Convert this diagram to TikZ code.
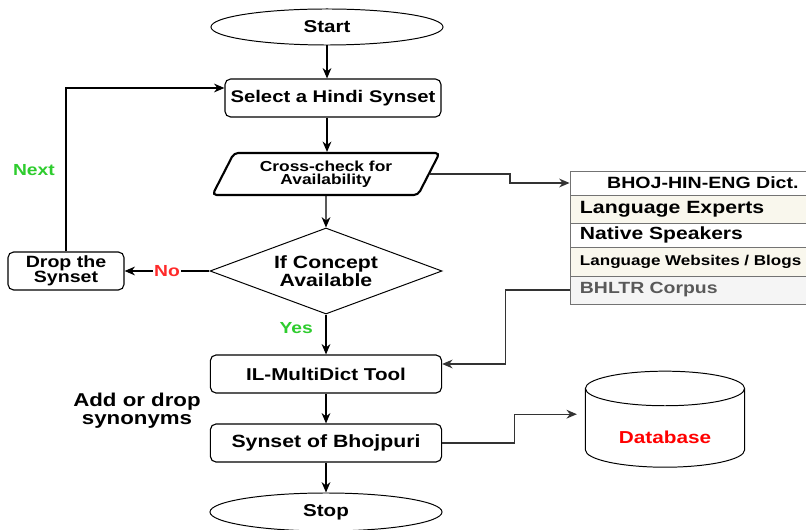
\documentclass[tikz,border=0pt]{standalone}
\usepackage{fontspec}
\setmainfont{Liberation Sans}[FakeStretch=1.2]
\usetikzlibrary{shapes.geometric, arrows.meta, positioning}

\definecolor{creamFill}{HTML}{F9F7ED}
\definecolor{greyFill}{HTML}{F5F5F5}
\definecolor{nextGreen}{HTML}{2ECC2E}
\definecolor{noRed}{HTML}{FF2A2A}

\tikzset{
	procBox/.style={rectangle, rounded corners=4pt, draw=black, line width=0.8pt, minimum width=5.78cm, minimum height=0.95cm, inner ysep=1pt, align=center, font=\fontsize{12}{11}\selectfont\bfseries},
	termNode/.style={ellipse, draw=black, line width=0.7pt, minimum width=5.8cm, minimum height=0.9cm, font=\fontsize{12.2}{13}\selectfont\bfseries},
	ioBox/.style={trapezium, trapezium left angle=60, trapezium right angle=120, trapezium stretches=true, rounded corners=3pt, draw=black, line width=1.5pt, minimum width=5.68cm, minimum height=1.05cm, inner sep=0pt, align=center, font=\fontsize{10.3}{9.5}\selectfont\bfseries},
	decisionBox/.style={diamond, aspect=2.7, draw=black, line width=0.7pt, minimum width=5.8cm, minimum height=2.15cm, inner sep=0pt, align=center, font=\fontsize{12.6}{11.5}\selectfont\bfseries},
	srcRow/.style={rectangle, draw=black!55, line width=0.6pt, minimum width=6.05cm, text width=5.55cm, inner xsep=0.25cm, inner ysep=0pt, align=left, font=\bfseries},
	dbNode/.style={cylinder, shape border rotate=90, aspect=0.34, draw=black, line width=0.7pt, minimum width=3.98cm, minimum height=2.4cm, font=\fontsize{12.3}{13}\selectfont\bfseries, text=red},
	flowArrow/.style={-{Stealth[length=2.6mm, width=2.2mm]}, line width=0.8pt},
	edgeLabel/.style={font=\fontsize{11.4}{12}\selectfont\bfseries}
}

\begin{document}
\begin{tikzpicture}[x=0.025cm, y=-0.025cm]
	\useasboundingbox (0,0) rectangle (806,530);

	% flow chart nodes
	\node[termNode](startNode) at (327,27){Start};
	\node[procBox, minimum width=5.4cm](selectBox) at (333,98){Select a Hindi Synset};
	\node[ioBox](checkBox) at (326,174){Cross-check for\\Availability};
	\node[decisionBox](conceptBox) at (326,271){If Concept\\Available};
	\node[procBox, minimum width=2.9cm, font=\fontsize{11.6}{10.6}\selectfont\bfseries](dropBox) at (66,271){Drop the\\Synset};
	\node[procBox, font=\fontsize{12.2}{11}\selectfont\bfseries](toolBox) at (326,374){IL-MultiDict Tool};
	\node[procBox, font=\fontsize{12.6}{11}\selectfont\bfseries](synsetBox) at (326,443){Synset of Bhojpuri};
	\node[termNode, minimum height=0.95cm](stopNode) at (326,512){Stop};
	\node[align=center, font=\fontsize{13.2}{12.7}\selectfont\bfseries](addDrop) at (137,411){Add or drop\\synonyms};

	% source table rows
	\node[srcRow, minimum height=0.6cm, fill=white, font=\fontsize{11.6}{12}\selectfont\bfseries](dictRow) at (691,183){\hspace*{0.68cm}BHOJ-HIN-ENG Dict.};
	\node[srcRow, minimum height=0.7cm, fill=creamFill, font=\fontsize{12.6}{13}\selectfont\bfseries](expertRow) at (691,209){Language Experts};
	\node[srcRow, minimum height=0.6cm, fill=white, font=\fontsize{12.5}{13}\selectfont\bfseries](nativeRow) at (691,235){Native Speakers};
	\node[srcRow, minimum height=0.725cm, fill=creamFill, font=\fontsize{10.1}{11}\selectfont\bfseries](webRow) at (691,261.5){Language Websites / Blogs};
	\node[srcRow, minimum height=0.7cm, fill=greyFill, text=black!65, font=\fontsize{11.5}{12}\selectfont\bfseries](corpusRow) at (691,290){BHLTR Corpus};

	% database
	\node[dbNode](dbBox) at (665,431){\raisebox{-0.15cm}[\height][\depth]{Database}};
	\coordinate (dbIn) at ([yshift=0.42cm]dbBox.west);

	% draw main edges
	\draw[flowArrow] (startNode.south) -- (startNode.south |- selectBox.north);
	\coordinate (checkOut) at (startNode.south |- selectBox.south);
	\draw[flowArrow] (checkOut) -- (checkOut |- checkBox.north);
	\draw[flowArrow] (checkBox.south) -- (conceptBox.north);
	\draw[flowArrow] (conceptBox.south) -- node[edgeLabel, text=nextGreen, pos=0.35, left=0.2cm]{Yes}(toolBox.north);
	\draw[flowArrow] (toolBox.south) -- (synsetBox.north);
	\draw[flowArrow] (synsetBox.south) -- (stopNode.north);

	% draw drop loop
	\draw[flowArrow] (conceptBox.west) -- node[edgeLabel, text=noRed, midway, fill=white, inner xsep=1pt]{No}(dropBox.east);
	\coordinate (selectIn) at ([yshift=0.25cm]selectBox.west);
	\draw[flowArrow] (dropBox.north) -- node[edgeLabel, text=nextGreen, midway, left=0.15cm]{Next}(dropBox.north |- selectIn) -- (selectIn);

	% draw table edges
	\draw[flowArrow, black!80] (checkBox.east) -- ++(80,0) |- (dictRow.west);
	\coordinate (toolIn) at ([yshift=0.25cm]toolBox.east);
	\draw[flowArrow, black!80] (corpusRow.west) -- ++(-64,0) |- (toolIn);
	\draw[flowArrow, black!80, shorten >=0.2cm] (synsetBox.east) -- ++(72,0) |- (dbIn);
\end{tikzpicture}
\end{document}
